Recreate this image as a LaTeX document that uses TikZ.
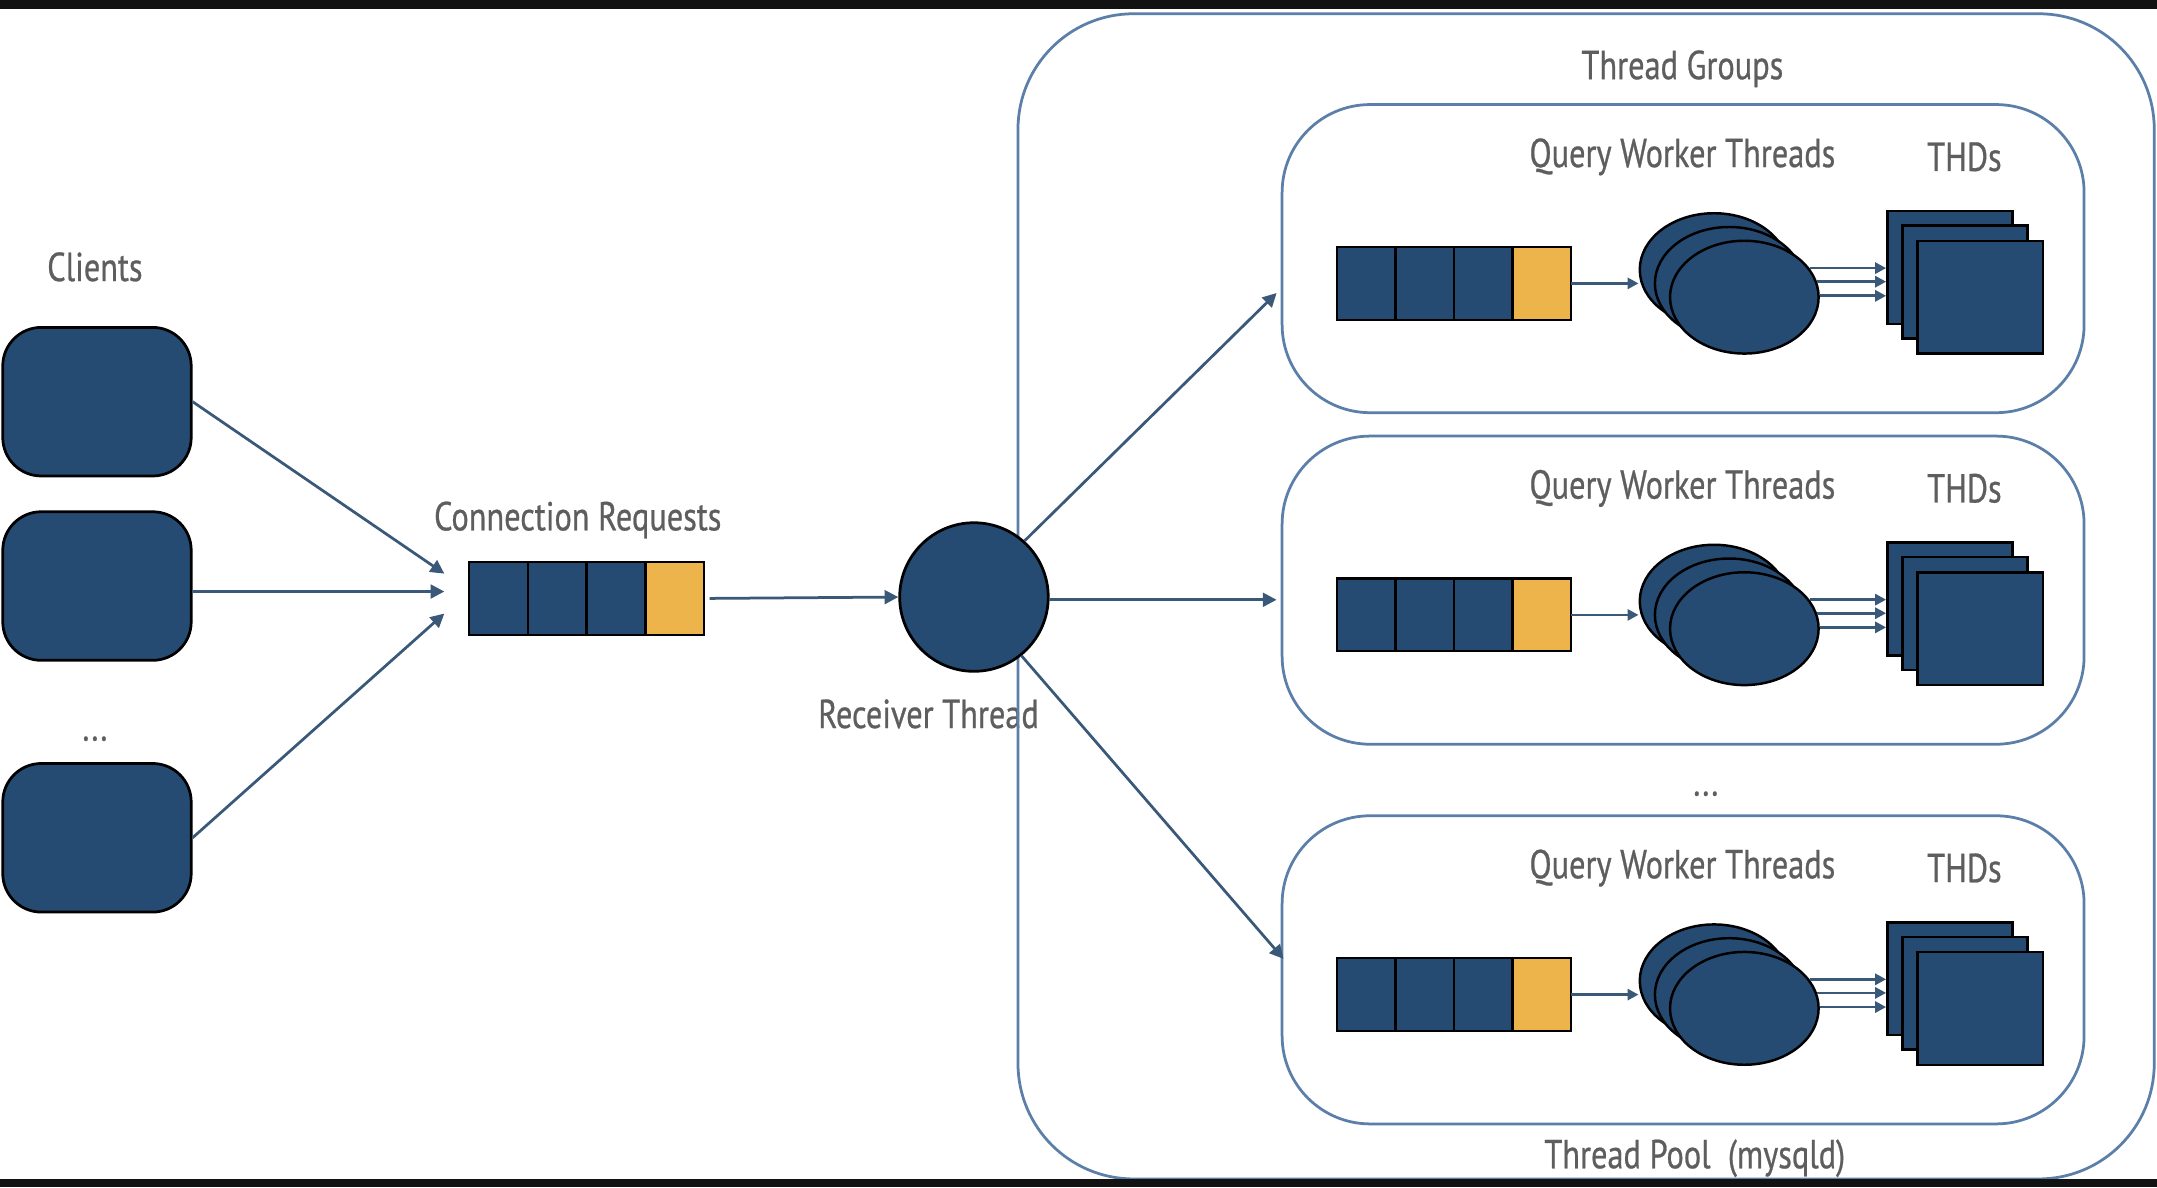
\documentclass[tikz,border=0pt]{standalone}
\usepackage{fontspec}
\setmainfont{PT Sans}[FakeStretch=0.8,FakeBold=0.6]
\usetikzlibrary{arrows.meta,shapes.geometric}
\definecolor{nav}{HTML}{264B73}
\definecolor{yel}{HTML}{ECB44A}
\definecolor{conn}{HTML}{3A5878}
\definecolor{frame}{HTML}{5B7FA8}
\definecolor{txt}{HTML}{5E5E5E}
\tikzset{
  lbl/.style={text=txt, font=\fontsize{14.7}{16}\selectfont, inner sep=0},
  client/.style={draw=black, line width=1pt, fill=nav, rounded corners=14pt, minimum width=68.5pt, minimum height=54pt, inner sep=0},
  cell/.style={draw=black, line width=0.8pt, fill=nav, minimum width=21.3pt, minimum height=26.5pt, inner sep=0, outer sep=0},
  ycell/.style={cell, fill=yel},
  arr/.style={draw=conn, line width=1pt, -{Triangle[length=5pt,width=5pt]}},
  sarr/.style={draw=conn, line width=1pt, -{Triangle[length=4pt,width=4pt]}},
  grp/.style={draw=frame, line width=1pt, rounded corners=32pt, minimum width=291.5pt, minimum height=112pt, inner sep=0},
  wkr/.style={ellipse, draw=black, line width=0.9pt, fill=nav, minimum width=54pt, minimum height=41pt, inner sep=0},
  thd/.style={draw=black, line width=0.9pt, fill=nav, minimum width=45.5pt, minimum height=41pt, inner sep=0},
  rcv/.style={circle, draw=black, line width=1pt, fill=nav, minimum size=54pt, inner sep=0},
}
\begin{document}
\begin{tikzpicture}[x=0.5pt,y=-0.5pt]
\useasboundingbox (0,0) rectangle (1568,863);
\fill[white] (0,0) rectangle (1568,863);

% labels
\node[lbl] (lclients) at (69,194) {Clients};
\node[lbl] (ldots) at (69,537) {...};
\node[lbl] (lconn) at (420,378) {Connection Requests};
\node[lbl] (lrecv) at (675,519) {Receiver Thread};
\node[lbl] (lgroups) at (1223,50) {Thread Groups};
\node[lbl] (lpool) at (1232,842) {Thread Pool\ \ (mysqld)};
\node[lbl] (gdots) at (1240,577) {...};

% outer frame
\node[draw=frame, line width=1pt, rounded corners=42pt, minimum width=413pt, minimum height=423.5pt, inner sep=0] (pool) at (1153,433.5) {};

% clients
\node[client] (c1) at (70.5,292) {};
\node[client] (c2) at (70.5,426) {};
\node[client] (c3) at (70.5,609) {};

% connection queue
\node[cell] (q1) at (362.4,435) {};
\node[cell] (q2) at (405.1,435) {};
\node[cell] (q3) at (447.9,435) {};
\node[ycell] (q4) at (490.6,435) {};

\coordinate (qi1) at (323,417);
\coordinate (qi2) at (323,430);
\coordinate (qi3) at (323,446);
\draw[arr] (c1.east) -- (qi1);
\draw[arr] (c2.east |- qi2) -- (qi2);
\draw[arr] (c3.east) -- (qi3);

% receiver
\node[rcv] (rec) at (708,434) {};
\draw[arr] ([xshift=2pt]q4.east) -- (rec.west);

% groups
\foreach \i/\dy in {1/0,2/241,3/517}{
  \node[grp] (g\i) at (1223.5,188+\dy) {};
  \node[lbl] (lq\i) at (1223,114+\dy) {Query Worker Threads};
  \node[lbl] (lt\i) at (1428,114+\dy) {THDs};
  \node[cell] (g\i a) at (993.25,206+\dy) {};
  \node[cell] (g\i b) at (1035.75,206+\dy) {};
  \node[cell] (g\i c) at (1078.25,206+\dy) {};
  \node[ycell] (g\i d) at (1120.75,206+\dy) {};
  \node[wkr] (w\i a) at (1246,196+\dy) {};
  \node[wkr] (w\i b) at (1257,206+\dy) {};
  \node[wkr] (w\i c) at (1268,216+\dy) {};
  \node[thd] (t\i a) at (1417.5,194.5+\dy) {};
  \node[thd] (t\i b) at (1428.5,205+\dy) {};
  \node[thd] (t\i c) at (1439.5,216+\dy) {};
  \draw[sarr] (g\i d.east) -- (g\i d.east -| w\i a.west);
  \draw[sarr] (w\i c.24) -- (w\i c.24 -| t\i a.west);
  \draw[sarr] (w\i c.12) -- (w\i c.12 -| t\i a.west);
  \draw[sarr] (w\i c.1) -- (w\i c.1 -| t\i a.west);
}

\coordinate (ge1) at (928,213);
\coordinate (ge2) at (928,436);
\coordinate (ge3) at (933,697);
\draw[arr] (rec.48) -- (ge1);
\draw[arr] (rec.east |- ge2) -- (ge2);
\draw[arr] (rec.-51) -- (ge3);

% black bars
\fill[black!93] (0,0) rectangle (1568,6.5);
\fill[black!93] (0,857) rectangle (1568,863);
\end{tikzpicture}
\end{document}
